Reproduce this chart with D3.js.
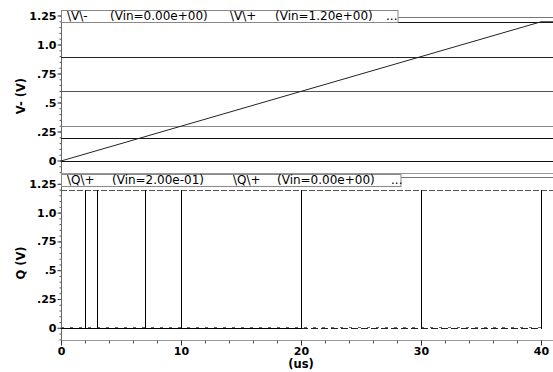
<!DOCTYPE html>
<html>
<head>
<meta charset="utf-8">
<script src="https://cdn.jsdelivr.net/npm/d3@7"></script>
<style>
  body { margin: 0; background: #fff; }
  svg { display: block; }
  .tick text { font-family: "DejaVu Sans", sans-serif; font-weight: bold; font-size: 11px; fill: #000; }
  .legend text { font-family: "DejaVu Sans", sans-serif; font-size: 12px; fill: #000; white-space: pre; }
  .ylabel, .xlabel { font-family: "DejaVu Sans", sans-serif; font-weight: bold; font-size: 11.5px; }
</style>
</head>
<body>
<div id="chart"></div>
<script>
// time axis (us)
const xTicks = [0, 10, 20, 30, 40];
const xMinorTicks = [2, 4, 6, 8, 12, 14, 16, 18, 22, 24, 26, 28, 32, 34, 36, 38];
const yTicks = [0, 0.25, 0.5, 0.75, 1.0, 1.25];
const yTickLabels = ["0", ".25", ".5", ".75", "1.0", "1.25"];

// top panel: V- ramp and V+ levels for each sweep
const vMinusT = [0, 40, 41];
const vMinusV = [0, 1.2, 1.2];
const vPlusLevels = [0, 0.2, 0.3, 0.6, 0.9, 1.2];
const vPlusColors = ["#111", "#111", "#888", "#555", "#222", "#111"];

// bottom panel: Q switches from 0 to 1.2 at these times
const qSwitchT = [2, 3, 7, 10, 20, 30, 40];
const qHigh = 1.2;
const qLow = 0;
const tEnd = 41;

const topLegend = [
    { x: 67, text: "\\V\\-" },
    { x: 110, text: "(Vin=0.00e+00)" },
    { x: 230, text: "\\V\\+" },
    { x: 275, text: "(Vin=1.20e+00)" },
    { x: 386, text: "..." }
];
const botLegend = [
    { x: 67, text: "\\Q\\+" },
    { x: 112, text: "(Vin=2.00e-01)" },
    { x: 233, text: "\\Q\\+" },
    { x: 277, text: "(Vin=0.00e+00)" },
    { x: 391, text: "..." }
];

const W = 553, H = 372;
const svg = d3.select("#chart").append("svg")
    .attr("width", W)
    .attr("height", H);

const x = d3.scaleLinear().domain([0, 41]).range([61, 553]);

const panels = [
    { top: 16, bottom: 172.6, legendTop: 10, legendBottom: 22, legendRight: 398, legendLine: 17,
      label: "V- (V)", labelY: 96, legend: topLegend },
    { top: 184.3, bottom: 339.8, legendTop: 174, legendBottom: 186, legendRight: 401, legendLine: 177,
      label: "Q (V)", labelY: 263, legend: botLegend }
];
panels.forEach(p => {
    p.y = d3.scaleLinear().domain([-0.1, 1.25]).range([p.bottom, p.top]);
});

const minorY = d3.range(-0.1, 1.26, 0.05).map(v => +v.toFixed(2));

function drawFrame(p) {
    const g = svg.append("g");

    // panel bottom line
    g.append("line")
        .attr("x1", 61).attr("x2", W)
        .attr("y1", Math.round(p.bottom) + 0.5).attr("y2", Math.round(p.bottom) + 0.5)
        .attr("stroke", "#999");

    // y axis
    const axis = g.append("g")
        .attr("transform", "translate(61.5,0)")
        .call(d3.axisLeft(p.y)
            .tickValues(yTicks)
            .tickFormat((d, i) => yTickLabels[i])
            .tickSize(4)
            .tickPadding(1)
            .offset(0));
    axis.select(".domain").remove();
    axis.selectAll(".tick line").attr("stroke", "#333");

    const minor = g.append("g")
        .attr("transform", "translate(61.5,0)")
        .call(d3.axisLeft(p.y).tickValues(minorY).tickFormat("").tickSize(2).offset(0));
    minor.select(".domain").remove();
    minor.selectAll(".tick line").attr("stroke", "#555");

    g.append("line")
        .attr("x1", 61.5).attr("x2", 61.5)
        .attr("y1", p.legendTop).attr("y2", p.bottom)
        .attr("stroke", "#666");

    // y label
    g.append("text")
        .attr("class", "ylabel")
        .attr("transform", `translate(25,${p.labelY}) rotate(-90)`)
        .attr("text-anchor", "middle")
        .text(p.label);
}

function drawLegend(p) {
    const g = svg.append("g").attr("class", "legend");
    g.append("line")
        .attr("x1", p.legendRight).attr("x2", W)
        .attr("y1", p.legendLine + 0.5).attr("y2", p.legendLine + 0.5)
        .attr("stroke", "#777");
    g.append("rect")
        .attr("x", 61.5).attr("y", p.legendTop + 0.5)
        .attr("width", p.legendRight - 61.5).attr("height", p.legendBottom - p.legendTop)
        .attr("fill", "#fff")
        .attr("stroke", "#888");
    g.selectAll("text")
        .data(p.legend)
        .join("text")
        .attr("x", d => d.x)
        .attr("y", p.legendBottom - 2)
        .attr("xml:space", "preserve")
        .text(d => d.text);
}

// ---- top panel
const pt = panels[0];
drawFrame(pt);

svg.append("g")
    .selectAll("line")
    .data(vPlusLevels)
    .join("line")
    .attr("x1", x(0)).attr("x2", x(tEnd))
    .attr("y1", d => Math.round(pt.y(d)) + 0.5)
    .attr("y2", d => Math.round(pt.y(d)) + 0.5)
    .attr("stroke", (d, i) => vPlusColors[i])
    .attr("stroke-width", 1);

const rampLine = d3.line()
    .x((d, i) => x(vMinusT[i]))
    .y(d => pt.y(d));
svg.append("path")
    .attr("d", rampLine(vMinusV))
    .attr("fill", "none")
    .attr("stroke", "#222")
    .attr("stroke-width", 1);

drawLegend(pt);

// ---- bottom panel
const pb = panels[1];
drawFrame(pb);

const yb = pb.y;
const hLine = d3.line().x(d => x(d[0])).y(d => Math.round(yb(d[1])) + 0.5);

// constant high trace plus low/high parts of each switching trace
svg.append("path")
    .attr("d", hLine([[0, qHigh], [tEnd, qHigh]]))
    .attr("fill", "none")
    .attr("stroke", "#555")
    .attr("stroke-dasharray", "6,2");

svg.append("path")
    .attr("d", hLine([[0, qLow], [d3.max(qSwitchT), qLow]]))
    .attr("fill", "none")
    .attr("stroke", "#222")
    .attr("stroke-dasharray", "7,3");

svg.append("path")
    .attr("d", hLine([[0, qLow], [d3.max(qSwitchT), qLow]]))
    .attr("transform", "translate(0,-1)")
    .attr("fill", "none")
    .attr("stroke", "#666")
    .attr("stroke-dasharray", "3,6");

svg.append("path")
    .attr("d", hLine([[0, qLow], [qSwitchT[4], qLow]]))
    .attr("fill", "none")
    .attr("stroke", "#000");

svg.append("g")
    .selectAll("line")
    .data(qSwitchT)
    .join("line")
    .attr("x1", d => Math.round(x(d)) + 0.5)
    .attr("x2", d => Math.round(x(d)) + 0.5)
    .attr("y1", Math.round(yb(qHigh)))
    .attr("y2", Math.round(yb(qLow)) + 1)
    .attr("stroke", "#000")
    .attr("stroke-width", 1);

drawLegend(pb);

// x axis
const xa = svg.append("g")
    .attr("transform", `translate(0,${Math.round(pb.bottom) + 0.5})`)
    .call(d3.axisBottom(x).tickValues(xTicks).tickSize(5).tickPadding(2).offset(0.5));
xa.select(".domain").remove();
xa.selectAll(".tick line").attr("stroke", "#333");

const xm = svg.append("g")
    .attr("transform", `translate(0,${Math.round(pb.bottom) + 0.5})`)
    .call(d3.axisBottom(x).tickValues(xMinorTicks).tickFormat("").tickSize(3).offset(0.5));
xm.select(".domain").remove();
xm.selectAll(".tick line").attr("stroke", "#555");

svg.append("text")
    .attr("class", "xlabel")
    .attr("x", x(20))
    .attr("y", 368)
    .attr("font-size", "11px")
    .attr("text-anchor", "middle")
    .text("(us)");
</script>
</body>
</html>
